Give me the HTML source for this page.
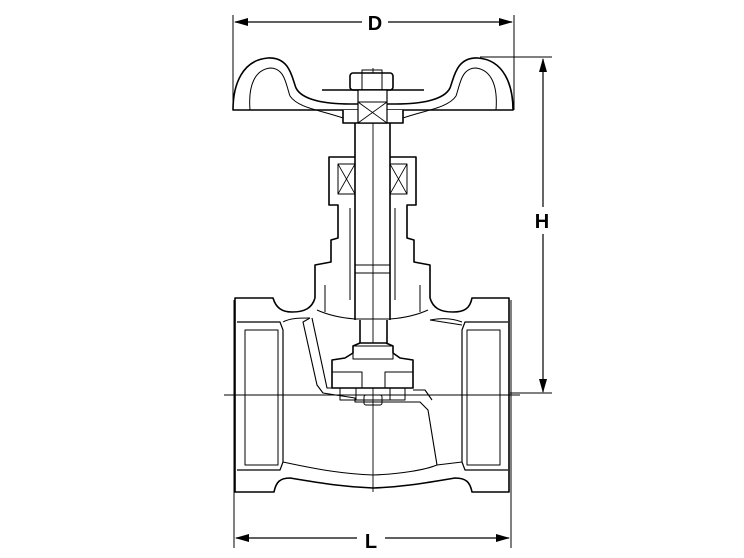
<!DOCTYPE html>
<html><head><style>html,body{margin:0;padding:0;background:#fff}svg{display:block}</style></head>
<body>
<svg width="744" height="558" viewBox="0 0 744 558" xmlns="http://www.w3.org/2000/svg" fill="none" stroke="#000" stroke-width="1.6" stroke-linejoin="round">
<!-- Dimension D -->
<line x1="233" y1="15" x2="233" y2="110" stroke-width="1"/>
<line x1="514" y1="15" x2="514" y2="110" stroke-width="1"/>
<line x1="235" y1="22" x2="362" y2="22" stroke-width="1.2"/>
<line x1="388" y1="22" x2="512" y2="22" stroke-width="1.2"/>
<polygon points="234,22 248,18 248,26" fill="#000" stroke="none"/>
<polygon points="513,22 499,18 499,26" fill="#000" stroke="none"/>
<text x="375" y="30" font-family="Liberation Sans, sans-serif" font-weight="bold" font-size="20" text-anchor="middle" fill="#000" stroke="none">D</text>
<!-- Dimension H -->
<line x1="480" y1="57" x2="552" y2="57" stroke-width="1"/>
<line x1="510" y1="393" x2="552" y2="393" stroke-width="1"/>
<line x1="543" y1="59" x2="543" y2="207" stroke-width="1.2"/>
<line x1="543" y1="234" x2="543" y2="392" stroke-width="1.2"/>
<polygon points="543,58 539,72 547,72" fill="#000" stroke="none"/>
<polygon points="543,393 539,379 547,379" fill="#000" stroke="none"/>
<text x="542" y="228" font-family="Liberation Sans, sans-serif" font-weight="bold" font-size="20" text-anchor="middle" fill="#000" stroke="none">H</text>
<!-- Dimension L -->
<line x1="234" y1="300" x2="234" y2="548" stroke-width="1"/>
<line x1="511" y1="300" x2="511" y2="548" stroke-width="1"/>
<line x1="236" y1="538" x2="357" y2="538" stroke-width="1.2"/>
<line x1="385" y1="538" x2="509" y2="538" stroke-width="1.2"/>
<polygon points="235,538 249,534 249,542" fill="#000" stroke="none"/>
<polygon points="510,538 496,534 496,542" fill="#000" stroke="none"/>
<text x="371" y="548" font-family="Liberation Sans, sans-serif" font-weight="bold" font-size="20" text-anchor="middle" fill="#000" stroke="none">L</text>
<!-- centerlines -->
<line x1="373" y1="68" x2="373" y2="492" stroke-width="0.9"/>
<line x1="224" y1="395" x2="520" y2="395" stroke-width="0.9"/>
<!-- Handwheel -->
<path d="M233,110 C233,85 242,60 268,58 C290,57 292,78 296,88 C302,100 325,104 350,104 L396,104 C421,104 444,100 450,88 C454,78 456,57 478,58 C504,60 513,85 513,110 Z"/>
<path d="M250,110 C248,85 255,70 270,68 C285,68 286,85 290,96 C298,108 320,110 343,118" stroke-width="1"/>
<path d="M496,110 C498,85 491,70 476,68 C461,68 460,85 456,96 C448,108 426,110 403,118" stroke-width="1"/>
<path d="M343,110 L343,123 L403,123 L403,110" fill="#fff"/>
<rect x="350" y="73" width="43" height="17" rx="3" fill="#fff"/>
<rect x="362" y="70" width="20" height="20" stroke-width="1"/>
<line x1="322" y1="90" x2="424" y2="90"/>
<rect x="358" y="90" width="29" height="33" stroke-width="1.2" fill="#fff"/>
<rect x="358" y="102" width="29" height="21" stroke-width="1"/>
<path d="M358,102 L387,123 M387,102 L358,123" stroke-width="0.9"/>
<!-- Stem -->
<line x1="355" y1="123" x2="355" y2="320"/>
<line x1="390" y1="123" x2="390" y2="320"/>
<rect x="355" y="265" width="35" height="8" stroke-width="1"/>
<!-- Bonnet nut -->
<path d="M355,157 L329,157 L329,205 L338,205 L338,238 L331,240 L331,262 L315,265 L315,298"/>
<path d="M390,157 L416,157 L416,205 L407,205 L407,238 L414,240 L414,262 L430,265 L430,298"/>
<rect x="338" y="164" width="17" height="30" stroke-width="1"/>
<path d="M338,164 L355,194 M355,164 L338,194" stroke-width="0.8"/>
<rect x="390" y="164" width="17" height="30" stroke-width="1"/>
<path d="M390,164 L407,194 M407,164 L390,194" stroke-width="0.8"/>
<line x1="350" y1="208" x2="350" y2="300" stroke-width="1"/>
<line x1="395" y1="208" x2="395" y2="300" stroke-width="1"/>
<line x1="325" y1="285" x2="325" y2="312" stroke-width="1"/>
<line x1="420" y1="285" x2="420" y2="312" stroke-width="1"/>
<!-- Body outline -->
<path d="M315,298 C312,308 305,312 292,312 C282,312 276,308 273,298 L235,298 L235,492 L274,492 C276,482 280,478 290,478 C326,484 346,487 373,488 C400,487 420,484 455,478 C466,478 470,482 472,492 L509,492 L509,298 L472,298 C470,308 465,312 453,312 C440,312 433,308 430,298"/>
<path d="M317,310 C330,316 343,318 355,319 L390,319 C403,318 415,316 428,310" stroke-width="1"/>
<!-- Ports -->
<path d="M237,322 L280,322 L283,330 L283,462 L280,470 L237,470" stroke-width="1.2"/>
<rect x="245" y="330" width="33" height="135" stroke-width="1"/>
<path d="M508,322 L465,322 L462,330 L462,462 L465,470 L508,470" stroke-width="1.2"/>
<rect x="467" y="330" width="33" height="135" stroke-width="1"/>
<path d="M283,322 C290,318 300,318 310,318" stroke-width="1"/>
<path d="M462,322 C452,318 440,318 430,320" stroke-width="1"/>
<!-- Internal partition -->
<path d="M310,318 L303,322 L317,385 L323,393 L355,398 L355,402 L420,402 L428,410 L437,465" stroke-width="1.1"/>
<path d="M312,318 L327,388 L358,388" stroke-width="1.1"/>
<path d="M413,390 L425,390 L432,400" stroke-width="1.1"/>
<path d="M283,462 C320,470 345,474 373,475 C400,474 425,470 437,465 L462,462" stroke-width="1.1"/>
<path d="M430,320 L462,325" stroke-width="1"/>
<!-- Disc -->
<line x1="360" y1="320" x2="360" y2="343"/>
<line x1="387" y1="320" x2="387" y2="343"/>
<path d="M360,343 L353,346 L353,353 L345,358 L332,360 L332,388 L413,388 L413,360 L400,358 L393,353 L393,346 L386,343 Z" fill="#fff"/>
<rect x="353" y="346" width="40" height="13" stroke-width="1"/>
<path d="M332,372 L362,372 L362,388 M413,372 L385,372 L385,388" stroke-width="1"/>
<path d="M340,388 L340,400 L405,400 L405,388 M356,388 L356,400 M390,388 L390,400" stroke-width="1"/>
<rect x="364" y="395" width="18" height="10" rx="2" stroke-width="1"/>
</svg>
</body></html>
